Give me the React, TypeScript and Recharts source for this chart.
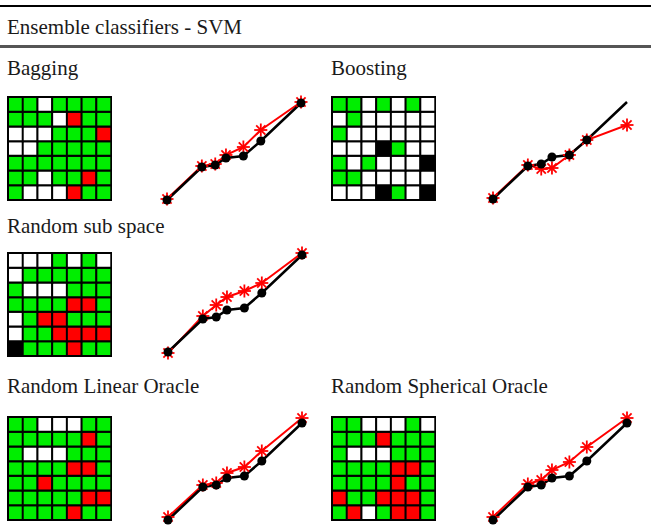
import { BarChart, Bar, Cell, LineChart, Line, XAxis, YAxis } from "recharts";

// cell colours: G = green, W = white, R = red, K = black (row by row, top first)
const baggingGrid = ["GGWGGGG", "GGGWRGG", "WWWGGGR", "WWGGGGG", "GGGGGGG", "GGWGGRG", "GWWWRGG"];
const boostingGrid = ["GGWGWGW", "WGWWWWW", "GWWWWWW", "WWWKGWW", "GWGWWWK", "GGWWWWW", "WWWKGWK"];
const subspaceGrid = ["WWWGWGW", "WGGGGGG", "GWWWGGG", "GGGGRRG", "WGRRGGG", "WGGRRRR", "KGGGRGG"];
const linearGrid = ["GGWWWGG", "GGGGGRG", "GWWWGGG", "GGGGRRG", "GGRGGGG", "GGGGGRR", "GGGGRGG"];
const sphericalGrid = ["GGWWWGW", "GGGRGGG", "GWWWGGG", "GGGGRRG", "GGGGRGG", "RGGRRRG", "GRWGRRG"];

// curves
const xSteps = [0, 26, 36, 44, 57, 70, 100];
const baseline = [0, 33, 35, 42, 44, 59, 97];
const baggingCurve = [1, 34, 36, 45, 53, 70, 98];
const boostingCurve = [1, 34, 30, 31, 44, 59, 74];
const subspaceCurve = [-1, 36, 47, 55, 61, 69, 99];
const linearCurve = [3, 35, 37, 47, 53, 69, 102];
const sphericalCurve = [3, 36, 40, 50, 58, 73, 102];

const COLORS: Record<string, string> = { G: "#00ee00", W: "#ffffff", R: "#ff0000", K: "#000000" };
const FONT = "'Liberation Serif', 'Times New Roman', serif";

function Grid({ grid, left, top }: { grid: string[]; left: number; top: number }) {
  const data = grid[0].split("").map((_, c) => {
    const row: Record<string, number> = { col: c };
    grid.forEach((_, r) => (row["r" + r] = 1));
    return row;
  });
  const rows = grid.map((_, r) => r).reverse();
  return (
    <div style={{ position: "absolute", left: left - 1, top: top - 1 }}>
      <BarChart width={105} height={105} data={data} margin={{ top: 1, right: 1, bottom: 1, left: 1 }} barCategoryGap={0}>
        <XAxis dataKey="col" hide />
        <YAxis hide domain={[0, 7]} />
        {rows.map((r) => (
          <Bar key={r} dataKey={"r" + r} stackId="a" stroke="#000" strokeWidth={2} isAnimationActive={false}>
            {data.map((_, c) => (
              <Cell key={c} fill={COLORS[grid[r][c]]} />
            ))}
          </Bar>
        ))}
      </BarChart>
    </div>
  );
}

function Asterisk(props: any) {
  const { cx, cy, index } = props;
  const r = 6.5;
  const d = r * Math.SQRT1_2;
  return (
    <g key={"a" + index} stroke="#ff0000" strokeWidth={1.8}>
      <line x1={cx - r} y1={cy} x2={cx + r} y2={cy} />
      <line x1={cx} y1={cy - r} x2={cx} y2={cy + r} />
      <line x1={cx - d} y1={cy - d} x2={cx + d} y2={cy + d} />
      <line x1={cx - d} y1={cy + d} x2={cx + d} y2={cy - d} />
    </g>
  );
}

function Curve({ curve, x0, y0, lastDot = true }: { curve: number[]; x0: number; y0: number; lastDot?: boolean }) {
  const data = xSteps.map((x, i) => ({ x, base: baseline[i], ens: curve[i] }));
  const blackDot = (props: any) => {
    const { cx, cy, index } = props;
    if (!lastDot && index === xSteps.length - 1) return <g key={"b" + index} />;
    return <circle key={"b" + index} cx={cx} cy={cy} r={4.5} fill="#000" />;
  };
  return (
    <div style={{ position: "absolute", left: x0 - 8, top: y0 - 113 }}>
      <LineChart width={150} height={126} data={data} margin={{ top: 8, right: 8, bottom: 8, left: 8 }}>
        <XAxis type="number" dataKey="x" domain={[0, 100]} hide />
        <YAxis type="number" domain={[-5, 105]} hide />
        <Line dataKey="ens" stroke="#ff0000" strokeWidth={2} dot={Asterisk} activeDot={false} isAnimationActive={false} />
        <Line dataKey="base" stroke="#000" strokeWidth={2.5} dot={blackDot} activeDot={false} isAnimationActive={false} />
      </LineChart>
    </div>
  );
}

function Label({ text, left, baselineY }: { text: string; left: number; baselineY: number }) {
  return (
    <div style={{ position: "absolute", left, top: baselineY - 19.1, fontFamily: FONT, fontSize: 21, lineHeight: "24px", color: "#1a1a1a", whiteSpace: "nowrap" }}>
      {text}
    </div>
  );
}

export default function App() {
  return (
    <div style={{ position: "absolute", left: 0, top: 0, width: 651, height: 531, background: "#fff", overflow: "hidden" }}>
      <div style={{ position: "absolute", left: 0, top: 5, width: 651, height: 2, background: "#000" }} />
      <Label text="Ensemble classifiers - SVM" left={7} baselineY={34} />
      <div style={{ position: "absolute", left: 0, top: 45, width: 651, height: 3, background: "#555" }} />

      <Label text="Bagging" left={7} baselineY={75} />
      <Label text="Boosting" left={331} baselineY={75} />
      <Grid grid={baggingGrid} left={8} top={97} />
      <Curve curve={baggingCurve} x0={167} y0={200} />
      <Grid grid={boostingGrid} left={332} top={97} />
      <Curve curve={boostingCurve} x0={493} y0={199} lastDot={false} />

      <Label text="Random sub space" left={7} baselineY={233} />
      <Grid grid={subspaceGrid} left={8} top={253} />
      <Curve curve={subspaceCurve} x0={168} y0={352} />

      <Label text="Random Linear Oracle" left={7} baselineY={393} />
      <Label text="Random Spherical Oracle" left={331} baselineY={393} />
      <Grid grid={linearGrid} left={8} top={417} />
      <Curve curve={linearCurve} x0={168} y0={520} />
      <Grid grid={sphericalGrid} left={332} top={417} />
      <Curve curve={sphericalCurve} x0={493} y0={520} />
    </div>
  );
}
